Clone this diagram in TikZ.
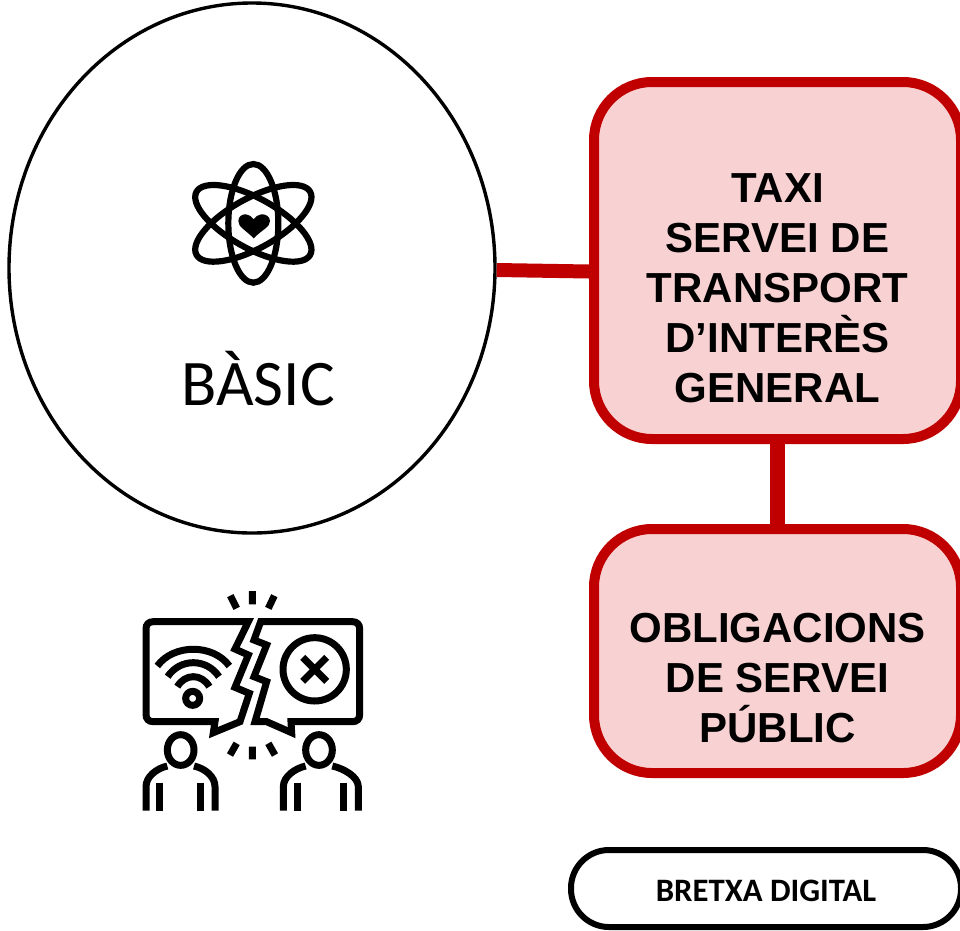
\documentclass[tikz,border=0pt]{standalone}
\usepackage{fontspec}
\setmainfont{Liberation Sans}
\newfontfamily\carlito{Carlito}
\usetikzlibrary{shapes.geometric}
\definecolor{boxred}{HTML}{C00000}
\definecolor{boxfill}{HTML}{F8D1D3}
\tikzset{
  redbox/.style={draw=boxred,fill=boxfill,line width=10pt,rounded corners=58pt,minimum width=367pt,inner sep=0pt},
  redlink/.style={draw=boxred},
  boxtext/.style={align=center,font=\bfseries\fontsize{42}{50}\selectfont,text=black,inner sep=0pt},
  atomline/.style={line width=6.2pt}
}
\begin{document}
\begin{tikzpicture}[x=1pt,y=-1pt]
\useasboundingbox (0,0) rectangle (960,930);
\clip (0,0) rectangle (960,930);
% circle
\node[ellipse,draw=black,line width=3.4pt,fill=white,minimum width=486pt,minimum height=530pt,inner sep=0pt] (basic) at (252,268) {};
\node[font=\carlito\fontsize{65}{70}\selectfont,anchor=base,inner sep=0pt] (basiclabel) at (258,405) {BÀSIC};
% boxes
\node[redbox,minimum height=357pt] (taxi) at (777.5,260.5) {};
\node[redbox,minimum height=244pt] (obl) at (777.5,651) {};
\node[boxtext] (taxitext) at (777.5,288) {TAXI\\SERVEI DE\\TRANSPORT\\D’INTERÈS\\GENERAL};
\node[boxtext] (obltext) at (777.5,678.5) {OBLIGACIONS\\DE SERVEI\\PÚBLIC};
\draw[redlink,line width=14pt] ([yshift=-2pt]basic.east) -- ([yshift=-11pt]taxi.west);
\draw[redlink,line width=15pt] (taxi.south) -- (obl.north);
% pill
\node[draw=black,line width=6pt,fill=white,rounded corners=38pt,minimum width=390pt,minimum height=77pt,inner sep=0pt] (gap) at (766,888.5) {};
\node[font=\carlito\bfseries\fontsize{32.7}{36}\selectfont,inner sep=0pt] (gaptext) at (766,891) {BRETXA DIGITAL};
% atom icon
\begin{scope}[shift={(170,140)},x=1/3*1pt,y=-1/3*1pt]
  \coordinate (atom) at (250,250);
  \draw[atomline] (atom) ellipse [x radius=75*0.3333pt,y radius=178*0.3333pt];
  \draw[atomline,rotate around={29:(atom)}] (atom) ellipse [x radius=195*0.3333pt,y radius=75*0.3333pt];
  \draw[atomline,rotate around={-29:(atom)}] (atom) ellipse [x radius=195*0.3333pt,y radius=75*0.3333pt];
  \fill (251,295) .. controls (225,268) and (205,262) .. (205,243)
     .. controls (205,228) and (218,222) .. (228,223)
     .. controls (238,224) and (246,230) .. (251,238)
     .. controls (256,230) and (264,224) .. (274,223)
     .. controls (285,222) and (300,228) .. (300,243)
     .. controls (300,262) and (277,268) .. (251,295) -- cycle;
\end{scope}
% broken chat icon
\begin{scope}[shift={(120,580)},x=1/3*1pt,y=-1/3*1pt,line width=7pt]
  % left bubble
  \draw[line join=miter] (385,125) -- (100,125) .. controls (86,125) and (78,133) .. (78,147) -- (78,403) .. controls (78,417) and (86,425) .. (100,425) -- (285,425) -- (280,458) -- (360,425) -- (388,340) -- (345,322) -- (385,225) -- (345,207) -- cycle;
  % right bubble
  \draw[line join=miter] (422,125) -- (697,125) .. controls (711,125) and (719,133) .. (719,147) -- (719,403) .. controls (719,417) and (711,425) .. (697,425) -- (513,425) -- (515,458) -- (440,425) -- (405,425) -- (440,305) -- (402,290) -- (440,195) -- (402,180) -- cycle;
  % cross circle
  \draw (584,268) circle [radius=95*0.3333pt];
  \draw (548,232) -- (620,304) (620,232) -- (548,304);
  % wifi
  \draw (218,355) circle [radius=21*0.3333pt];
  \draw (112,258) .. controls (160,191) and (280,191) .. (328,258);
  \draw (143,290) .. controls (180,234) and (260,234) .. (297,290);
  \draw (172,320) .. controls (195,280) and (245,280) .. (268,320);
  % ticks
  \draw (331,47) -- (350,85) (397,33) -- (397,73) (463,47) -- (445,85);
  \draw (350,490) -- (330,525) (397,500) -- (397,538) (445,490) -- (465,525);
  % persons
  \draw (182,510) ellipse [x radius=40*0.3333pt,y radius=46*0.3333pt];
  \draw (78,692) -- (78,620) .. controls (78,590) and (110,565) .. (142,558);
  \draw (285,692) -- (285,620) .. controls (285,590) and (255,565) .. (222,558);
  \draw (118,608) -- (118,692) (242,608) -- (242,692);
  \draw (597,510) ellipse [x radius=40*0.3333pt,y radius=46*0.3333pt];
  \draw (490,692) -- (490,620) .. controls (490,590) and (525,565) .. (557,558);
  \draw (715,692) -- (715,620) .. controls (715,590) and (670,565) .. (637,558);
  \draw (533,608) -- (533,692) (670,608) -- (670,692);
\end{scope}
\end{tikzpicture}
\end{document}
